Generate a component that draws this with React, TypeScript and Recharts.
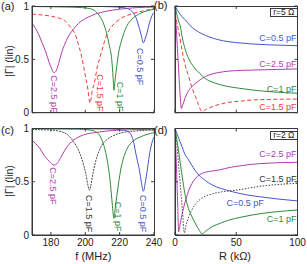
import { LineChart, Line, XAxis, YAxis, ReferenceDot } from "recharts";

type P = [number, number];

const fTicks = [180, 200, 220, 240];
const rTicks = [0, 50, 100];
const gTicks = [0, 0.5, 1];

// (a) |Γ| vs f, r = 5 Ω
const aC05: P[] = [[169, 0.998], [200, 0.997], [215, 0.993], [222, 0.985], [226, 0.965], [228, 0.935], [230, 0.87], [231.5, 0.79], [232.5, 0.73], [233.8, 0.655], [235, 0.7], [236, 0.75], [237, 0.82], [238, 0.875], [239, 0.915], [240, 0.94]];
const aC1: P[] = [[169, 0.995], [180, 0.993], [190, 0.99], [198, 0.985], [203, 0.975], [206, 0.95], [208.6, 0.9], [210.5, 0.84], [212.5, 0.74], [214, 0.63], [215.4, 0.5], [216.2, 0.33], [216.7, 0.21], [217.3, 0.3], [218.3, 0.43], [219.5, 0.57], [221.2, 0.68], [223, 0.77], [225, 0.835], [228, 0.89], [232, 0.93], [236, 0.955], [240, 0.97]];
const aC15: P[] = [[169, 0.925], [175, 0.915], [180, 0.905], [185, 0.885], [188, 0.865], [190, 0.83], [192, 0.79], [194, 0.74], [196, 0.64], [198, 0.52], [200, 0.35], [201.5, 0.22], [202.8, 0.09], [204, 0.2], [205.7, 0.31], [207, 0.43], [208.6, 0.52], [210.5, 0.63], [212.5, 0.73], [215, 0.8], [218, 0.85], [222, 0.895], [228, 0.93], [234, 0.955], [240, 0.975]];
const aC25: P[] = [[169, 0.84], [171, 0.79], [173, 0.73], [175, 0.65], [177, 0.57], [179, 0.47], [180.5, 0.41], [181.8, 0.375], [183, 0.39], [184.5, 0.46], [186, 0.55], [188, 0.64], [190, 0.71], [193, 0.78], [197, 0.85], [201, 0.89], [206, 0.925], [212, 0.95], [220, 0.97], [230, 0.985], [240, 0.99]];

// (b) |Γ| vs R, r = 5 Ω
const bC05: P[] = [[0, 1], [2, 0.96], [4.4, 0.92], [6.5, 0.89], [8.5, 0.87], [12, 0.82], [16.7, 0.775], [22, 0.74], [27.6, 0.712], [35, 0.685], [44, 0.665], [55, 0.652], [63, 0.644], [75, 0.637], [88, 0.632], [100, 0.628]];
const bC1: P[] = [[0, 1], [1, 0.95], [2, 0.9], [3, 0.86], [4.4, 0.806], [6, 0.7], [8.5, 0.588], [11, 0.51], [15.3, 0.43], [20, 0.37], [24.8, 0.32], [32, 0.28], [41.2, 0.25], [52, 0.23], [63, 0.213], [80, 0.195], [100, 0.182]];
const bC15: P[] = [[0, 0.93], [2, 0.82], [4, 0.7], [5.7, 0.588], [8, 0.46], [11.2, 0.337], [14, 0.23], [16.7, 0.15], [19, 0.08], [22.1, 0.01], [25, 0.03], [30.3, 0.056], [37, 0.08], [44, 0.097], [55, 0.11], [63, 0.119], [80, 0.125], [100, 0.128]];
const bC25: P[] = [[0, 1], [1, 0.8], [2, 0.6], [3, 0.4], [4, 0.2], [5.2, 0.04], [6.5, 0.08], [8, 0.13], [9.8, 0.18], [13, 0.235], [16.7, 0.275], [22, 0.32], [27.6, 0.353], [35, 0.375], [44, 0.39], [55, 0.397], [71, 0.402], [85, 0.406], [100, 0.41]];

// (c) |Γ| vs f, r = 2 Ω
const cC05: P[] = [[169, 0.999], [215, 0.995], [222, 0.985], [225, 0.97], [227, 0.93], [228.2, 0.87], [229, 0.8], [230.3, 0.7], [231.5, 0.61], [232.7, 0.49], [233.8, 0.41], [235, 0.5], [236.1, 0.61], [237.2, 0.74], [238.7, 0.86], [240, 0.92]];
const cC1: P[] = [[169, 0.998], [195, 0.995], [203, 0.985], [206, 0.97], [208.6, 0.93], [210, 0.88], [211.5, 0.8], [213, 0.68], [214.4, 0.52], [215.5, 0.33], [216.7, 0.157], [217.5, 0.26], [218.3, 0.36], [219.5, 0.5], [220.6, 0.61], [222, 0.71], [224, 0.8], [227, 0.87], [231.9, 0.92], [236, 0.945], [240, 0.96]];
const cC15: P[] = [[169, 0.99], [180, 0.985], [186, 0.97], [189, 0.95], [191, 0.92], [193, 0.88], [195, 0.83], [197, 0.76], [199, 0.66], [200.5, 0.56], [201.5, 0.47], [202.4, 0.42], [203.3, 0.47], [204.5, 0.58], [206, 0.69], [207.6, 0.77], [209.5, 0.84], [212.5, 0.895], [216, 0.93], [220, 0.955], [228, 0.975], [240, 0.985]];
const cC25: P[] = [[169, 0.89], [171, 0.86], [173.7, 0.81], [176, 0.75], [178, 0.71], [180, 0.675], [181.8, 0.657], [183.5, 0.67], [185.5, 0.72], [187.5, 0.78], [189.5, 0.83], [192, 0.875], [195, 0.91], [199, 0.94], [205, 0.96], [212, 0.975], [220, 0.985], [230, 0.99], [240, 0.993]];

// (d) |Γ| vs R, r = 2 Ω
const dC05: P[] = [[0, 1], [2, 0.94], [4, 0.88], [5.7, 0.83], [8, 0.76], [11.2, 0.704], [15, 0.63], [19.4, 0.563], [25, 0.51], [30.3, 0.47], [38, 0.435], [46.7, 0.407], [57, 0.38], [68.6, 0.36], [84, 0.338], [100, 0.32]];
const dC1: P[] = [[0, 1], [2, 0.86], [4.4, 0.67], [6.5, 0.5], [8.5, 0.36], [11, 0.25], [13.9, 0.17], [17, 0.1], [20, 0.04], [22.1, 0.01], [25, 0.035], [30.3, 0.078], [37, 0.11], [44, 0.14], [53, 0.165], [63, 0.188], [80, 0.215], [100, 0.235]];
const dC15: P[] = [[0, 1], [1.5, 0.85], [3, 0.65], [4.5, 0.45], [6, 0.24], [7.7, 0.02], [9, 0.09], [11.2, 0.17], [13.5, 0.23], [16.7, 0.29], [20, 0.33], [24.8, 0.365], [30, 0.385], [38, 0.405], [49.4, 0.42], [60, 0.44], [71.3, 0.46], [85, 0.475], [100, 0.485]];
const dC25: P[] = [[0, 1], [0.8, 0.75], [1.6, 0.5], [2.3, 0.25], [3, 0.03], [4, 0.09], [5.5, 0.18], [7.1, 0.26], [9, 0.34], [11, 0.41], [13.9, 0.485], [17, 0.535], [20, 0.565], [25, 0.59], [30, 0.6], [35.8, 0.61], [45, 0.635], [55, 0.652], [63, 0.664], [76.8, 0.675], [88, 0.68], [100, 0.683]];

const BLUE = "#4656c8";
const GREEN = "#2e8b3c";
const MAG = "#b23cb0";
const RED = "#ee3b3b";
const BLK = "#333333";
const AX = "#3a3a3a";
const TXT = "#222";
const FONT = "'Liberation Sans', Arial, sans-serif";

const pts = (a: P[]) => a.map(([x, y]) => ({ x, y }));

interface Series { d: P[]; c: string; dash?: string; w?: number }
interface CLabel { x: number; y: number; t: string; c: string; rot?: boolean }

// inward ticks on both opposite sides (matlab box style)
const tickBottom = (show: boolean, ph: number) => (p: any) => (
  <g>
    <path d={`M${p.x},${p.y}v-3M${p.x},${p.y - ph}v3`} stroke={AX} strokeWidth={1} fill="none" />
    {show && <text x={p.x} y={p.y + 4} dy="0.71em" textAnchor="middle" fontSize={10} fill={TXT} fontFamily={FONT}>{p.payload.value}</text>}
  </g>
);
const tickLeft = (show: boolean, pw: number) => (p: any) => (
  <g>
    <path d={`M${p.x},${p.y}h3M${p.x + pw},${p.y}h-3`} stroke={AX} strokeWidth={1} fill="none" />
    {show && <text x={p.x - 3} y={p.y} dy="0.35em" textAnchor="end" fontSize={10} fill={TXT} fontFamily={FONT}>{p.payload.value}</text>}
  </g>
);

function CurveText({ viewBox, l }: any) {
  const x = viewBox?.x ?? 0, y = viewBox?.y ?? 0;
  if (l.rot) {
    return (
      <text transform={`translate(${x},${y}) rotate(90)`} dominantBaseline="central" fontSize={9} fill={l.c} fontFamily={FONT}>{l.t}</text>
    );
  }
  return <text x={x} y={y} dominantBaseline="central" textAnchor="end" fontSize={9} fill={l.c} fontFamily={FONT}>{l.t}</text>;
}

function Panel({ left, top, w, h, m, xDomain, xTicks, xLab, yLab, series, labels }: {
  left: number; top: number; w: number; h: number;
  m: { top: number; right: number; bottom: number; left: number };
  xDomain: [number, number]; xTicks: number[]; xLab: boolean; yLab: boolean;
  series: Series[]; labels: CLabel[];
}) {
  // axes are 1px thick, so the margins give the plot box minus that pixel
  const mm = { top: m.top, right: m.right, bottom: m.bottom - 1, left: m.left - 1 };
  const pw = w - m.left - m.right;
  const ph = h - m.top - m.bottom;
  return (
    <div style={{ position: "absolute", left, top, width: w, height: h }}>
      <LineChart width={w} height={h} margin={mm} style={{ overflow: "visible" }}>
        <XAxis xAxisId="x" dataKey="x" type="number" domain={xDomain} ticks={xTicks} interval={0} height={1}
          tickSize={0} tickMargin={0} tickLine={false} axisLine={{ stroke: AX }} tick={tickBottom(xLab, ph)} allowDataOverflow />
        <YAxis yAxisId="y" type="number" domain={[0, 1]} ticks={gTicks} interval={0} width={1}
          tickSize={0} tickMargin={0} tickLine={false} axisLine={{ stroke: AX }} tick={tickLeft(yLab, pw)} allowDataOverflow />
        {series.map((s, i) => (
          <Line key={i} xAxisId="x" yAxisId="y" data={pts(s.d)} dataKey="y" type="monotone" stroke={s.c}
            strokeWidth={s.w ?? 1} strokeDasharray={s.dash} dot={false} activeDot={false} isAnimationActive={false} />
        ))}
        {labels.map((l, i) => (
          <ReferenceDot key={"l" + i} xAxisId="x" yAxisId="y" x={l.x} y={l.y} r={0} fill="none" stroke="none"
            label={(p: any) => <CurveText {...p} l={l} />} />
        ))}
      </LineChart>
      {/* box frame around the plot area */}
      <div style={{
        position: "absolute", left: m.left - 0.5, top: m.top - 0.5, width: pw + 1, height: ph + 1,
        border: `1px solid ${AX}`, boxSizing: "border-box", pointerEvents: "none",
      }} />
    </div>
  );
}

const abs = (l: number, t: number, extra: any = {}) => ({ position: "absolute" as const, left: l, top: t, whiteSpace: "nowrap" as const, color: TXT, ...extra });

export default function App() {
  const fDom: [number, number] = [169, 240];
  const rDom: [number, number] = [0, 100];
  return (
    <div style={{ position: "absolute", left: 0, top: 0, width: 307, height: 264, background: "#fff", fontFamily: FONT, overflow: "hidden" }}>
      <Panel left={0} top={0} w={160} h={120} m={{ top: 6, right: 6, bottom: 7.3, left: 32 }}
        xDomain={fDom} xTicks={fTicks} xLab={false} yLab
        series={[{ d: aC25, c: MAG }, { d: aC15, c: RED, dash: "4 2.5" }, { d: aC1, c: GREEN }, { d: aC05, c: BLUE }]}
        labels={[
          { x: 181.8, y: 0.35, t: "C=2.5 pF", c: MAG, rot: true },
          { x: 208.6, y: 0.36, t: "C=1.5 pF", c: RED, rot: true },
          { x: 220, y: 0.29, t: "C=1 pF", c: GREEN, rot: true },
          { x: 231.7, y: 0.606, t: "C=0.5 pF", c: BLUE, rot: true },
        ]} />
      <Panel left={160} top={0} w={147} h={120} m={{ top: 6, right: 9.5, bottom: 7.3, left: 15 }}
        xDomain={rDom} xTicks={rTicks} xLab={false} yLab={false}
        series={[{ d: bC05, c: BLUE }, { d: bC25, c: MAG }, { d: bC1, c: GREEN }, { d: bC15, c: RED, dash: "4 2.5" }]}
        labels={[
          { x: 99.2, y: 0.697, t: "C=0.5 pF", c: BLUE },
          { x: 99.2, y: 0.456, t: "C=2.5 pF", c: MAG },
          { x: 99.2, y: 0.219, t: "C=1 pF", c: GREEN },
          { x: 99.2, y: 0.053, t: "C=1.5 pF", c: RED },
        ]} />
      <Panel left={0} top={122} w={165} h={142} m={{ top: 6.5, right: 11, bottom: 29, left: 32 }}
        xDomain={fDom} xTicks={fTicks} xLab yLab
        series={[{ d: cC25, c: MAG }, { d: cC15, c: BLK, dash: "2 1", w: 0.9 }, { d: cC1, c: GREEN }, { d: cC05, c: BLUE }]}
        labels={[
          { x: 181.4, y: 0.636, t: "C=2.5 pF", c: MAG, rot: true },
          { x: 202.4, y: 0.376, t: "C=1.5 pF", c: BLK, rot: true },
          { x: 219.2, y: 0.313, t: "C=1 pF", c: GREEN, rot: true },
          { x: 233.8, y: 0.376, t: "C=0.5 pF", c: BLUE, rot: true },
        ]} />
      <Panel left={160} top={122} w={147} h={142} m={{ top: 6.5, right: 9.5, bottom: 29, left: 15 }}
        xDomain={rDom} xTicks={rTicks} xLab yLab={false}
        series={[{ d: dC25, c: MAG }, { d: dC15, c: BLK, dash: "1.5 1.5", w: 0.9 }, { d: dC05, c: BLUE }, { d: dC1, c: GREEN }]}
        labels={[
          { x: 99.2, y: 0.758, t: "C=2.5 pF", c: MAG },
          { x: 99.2, y: 0.523, t: "C=1.5 pF", c: BLK },
          { x: 72.5, y: 0.298, t: "C=0.5 pF", c: BLUE },
          { x: 99.2, y: 0.147, t: "C=1 pF", c: GREEN },
        ]} />

      <div style={abs(1, 1, { fontSize: 11, lineHeight: "11px" })}>(a)</div>
      <div style={abs(154, 0, { fontSize: 11, lineHeight: "11px" })}>(b)</div>
      <div style={abs(1, 124.5, { fontSize: 11, lineHeight: "11px" })}>(c)</div>
      <div style={abs(154, 125, { fontSize: 11, lineHeight: "11px" })}>(d)</div>

      <div style={abs(9, 61, { fontSize: 10.5, lineHeight: "11px", transform: "translate(-50%,-50%) rotate(-90deg)" })}>|Γ| (lin)</div>
      <div style={abs(9, 181, { fontSize: 10.5, lineHeight: "11px", transform: "translate(-50%,-50%) rotate(-90deg)" })}>|Γ| (lin)</div>

      <div style={abs(93.3, 256, { fontSize: 11, lineHeight: "11px", transform: "translate(-50%,-50%)" })}>f (MHz)</div>
      <div style={abs(235, 256, { fontSize: 11, lineHeight: "11px", transform: "translate(-50%,-50%)" })}>R (kΩ)</div>

      <div style={abs(270, 8.3, { width: 27.5, height: 9, boxSizing: "border-box", border: `1px solid ${AX}`, background: "#fff", fontSize: 8.5, lineHeight: "7px", textAlign: "center" })}>r=5 Ω</div>
      <div style={abs(270, 130.5, { width: 27.5, height: 9, boxSizing: "border-box", border: `1px solid ${AX}`, background: "#fff", fontSize: 8.5, lineHeight: "7px", textAlign: "center" })}>r=2 Ω</div>
    </div>
  );
}
